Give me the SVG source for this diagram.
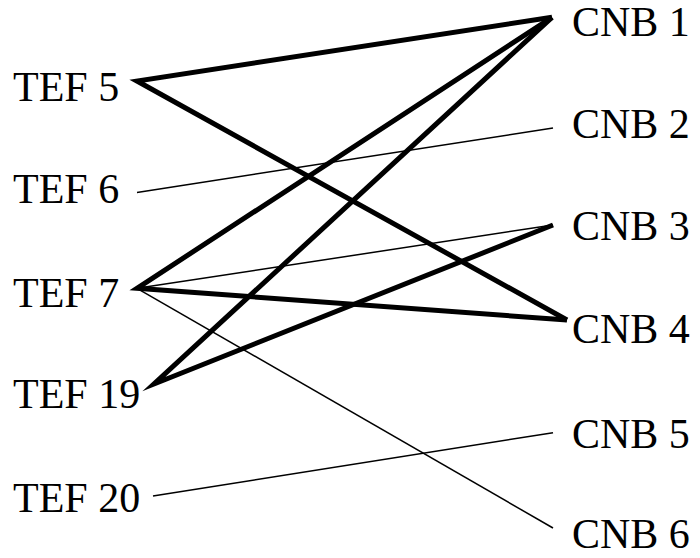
<svg xmlns="http://www.w3.org/2000/svg" width="700" height="558" viewBox="0 0 700 558">
<style>
.lbl { font-size: 42px; fill: #000; }
.thick { stroke: #000; stroke-width: 5; fill: none; stroke-linecap: butt; stroke-linejoin: miter; stroke-miterlimit: 10; }
.thin { stroke: #000; stroke-width: 1.5; fill: none; }
</style>
<rect width="700" height="558" fill="#fff"/>
<g id="connectors">
<line class="thin" x1="137" y1="192.5" x2="553" y2="128"/>
<line class="thin" x1="137" y1="288.3" x2="553" y2="225"/>
<line class="thin" x1="137" y1="288.3" x2="553" y2="528"/>
<line class="thin" x1="153" y1="496" x2="553" y2="432.7"/>
<polyline class="thick" points="552,17.3 137,81 567,320"/>
<polyline class="thick" points="552,17.3 137,288.3 567,320"/>
<polyline class="thick" points="552,17.3 154,384 553,225"/>
</g>
<g font-family="Liberation Serif, serif">
<g id="tef5"><text class="lbl" x="13" y="100.7">TEF 5</text></g>
<g id="tef6"><text class="lbl" x="13" y="202.7">TEF 6</text></g>
<g id="tef7"><text class="lbl" x="13" y="306.7">TEF 7</text></g>
<g id="tef19"><text class="lbl" x="13" y="408">TEF 19</text></g>
<g id="tef20"><text class="lbl" x="13" y="511.7">TEF 20</text></g>
<g id="cnb1"><text class="lbl" x="572" y="36">CNB 1</text></g>
<g id="cnb2"><text class="lbl" x="572" y="137.7">CNB 2</text></g>
<g id="cnb3"><text class="lbl" x="572" y="240">CNB 3</text></g>
<g id="cnb4"><text class="lbl" x="572" y="343.3">CNB 4</text></g>
<g id="cnb5"><text class="lbl" x="572" y="448">CNB 5</text></g>
<g id="cnb6"><text class="lbl" x="572" y="548">CNB 6</text></g>
</g>
</svg>
